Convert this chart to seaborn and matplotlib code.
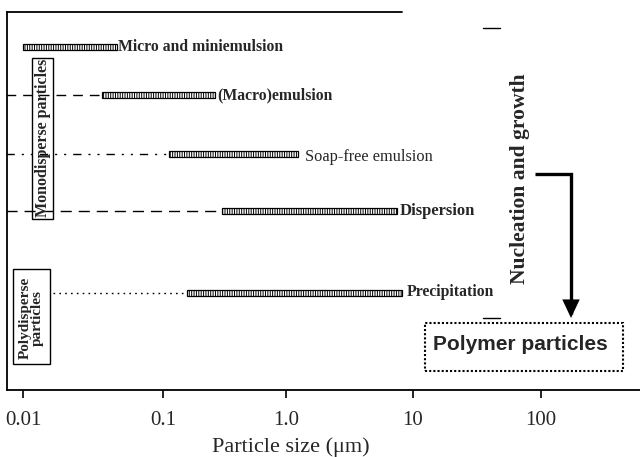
import matplotlib
matplotlib.use("Agg")
import matplotlib.pyplot as plt
import seaborn as sns
import numpy as np
from matplotlib.patches import Rectangle, FancyArrowPatch
from matplotlib.path import Path
from matplotlib.lines import Line2D

# ---- data ----
methods = ["Micro and miniemulsion", "(Macro)emulsion", "Soap-free emulsion",
           "Dispersion", "Precipitation"]
size_min = [0.010, 0.0365, 0.112, 0.300, 0.156]   # µm
size_max = [0.0467, 0.265, 1.24, 7.44, 8.15]      # µm
guide_from = [None, 0.0076, 0.0076, 0.0076, 0.0164]
tick_values = [0.01, 0.1, 1.0, 10, 100]
tick_labels = ["0.01", "0.1", "1.0", "10", "100"]

# ---- layout ----
W, H = 640, 457
row_y = [47, 95, 154, 211, 293]           # pixel-like rows
label_dx = [1, 2, 7, 3, 5]                # pixel gap after bar
label_dy = [0, 0, -3, 0, 1]
label_bold = [True, True, False, True, True]
label_size = [11.3, 11.3, 11.8, 12, 11.3]
guide_styles = [None, (0, (7, 5)), (0, (6, 5, 1.5, 5, 1.5, 5)), (0, (8, 5)), (0, (1.2, 3))]

# the original drawing's log axis has slightly uneven decades
knot_l = np.array([-2.0, -1.0, 0.0, 1.0, 2.0])
knot_p = np.array([23.0, 163.0, 286.0, 413.0, 541.0])


def fwd(x):
    x = np.asarray(x, dtype=float)
    l = np.log10(np.clip(x, 1e-12, None))
    p = np.interp(l, knot_l, knot_p)
    p = np.where(l < -2, 23 + (l + 2) * 140, p)
    p = np.where(l > 2, 541 + (l - 2) * 128, p)
    return p


def inv(p):
    p = np.asarray(p, dtype=float)
    l = np.interp(p, knot_p, knot_l)
    l = np.where(p < 23, -2 + (p - 23) / 140, l)
    l = np.where(p > 541, 2 + (p - 541) / 128, l)
    return 10 ** l


sns.set_theme(style="white")
plt.rcParams["font.family"] = ["Liberation Serif", "DejaVu Serif"]
plt.rcParams["hatch.linewidth"] = 0.7

fig = plt.figure(figsize=(W / 100, H / 100), dpi=100)
ax = fig.add_axes([7 / W, (H - 390) / H, (W - 7) / W, (390 - 12) / H])
ax.set_xscale("function", functions=(fwd, inv))
ax.set_xlim(float(inv(7)), float(inv(640)))
ax.set_ylim(390, 12)

for i, m in enumerate(methods):
    y = row_y[i]
    if guide_from[i] is not None:
        ax.plot([guide_from[i], size_min[i]], [y, y], color="black", lw=1.0,
                linestyle=guide_styles[i])
    ax.barh(y, size_max[i] - size_min[i], left=size_min[i], height=5.5,
            facecolor="white", edgecolor="black", linewidth=0.9, hatch="|||||||")
    ax.annotate(m, xy=(size_max[i], y), xytext=(label_dx[i], label_dy[i]),
                textcoords="offset pixels", va="center", ha="left",
                fontsize=label_size[i],
                fontweight="bold" if label_bold[i] else "normal")

ax.set_xticks(tick_values)
ax.set_xticklabels(tick_labels)
ax.xaxis.set_minor_locator(matplotlib.ticker.NullLocator())
ax.tick_params(axis="x", bottom=True, direction="out", length=6, width=1.2,
               labelsize=15, pad=9, color="black")
ax.tick_params(axis="y", left=False, labelleft=False)
ax.set_xlabel("Particle size (μm)", fontsize=16, va="top")
ax.xaxis.set_label_coords((291 - 7) / (W - 7), (390 - 437) / 378)
sns.despine(ax=ax, top=True, right=True)
for s in ["left", "bottom"]:
    ax.spines[s].set_color("black")
    ax.spines[s].set_linewidth(1.3)
ax.plot([0, (402 - 7) / (W - 7)], [1, 1], transform=ax.transAxes, color="black",
        lw=1.3, clip_on=False)


def fx(x):
    return x / W


def fy(y):
    return 1 - y / H


# small marks at right
for yy in (28, 318):
    fig.add_artist(Line2D([fx(483), fx(500)], [fy(yy), fy(yy)], color="black", lw=1.0))

# vertical labelled boxes
fig.add_artist(Rectangle((fx(32), fy(219)), fx(53) - fx(32), fy(58) - fy(219),
                         fill=False, edgecolor="black", lw=1.0))
fig.text(fx(43), fy(138), "Monodisperse particles", rotation=90, ha="center",
         va="center", fontsize=11.5, fontweight="bold")
fig.add_artist(Rectangle((fx(13), fy(364)), fx(50) - fx(13), fy(269) - fy(364),
                         fill=False, edgecolor="black", lw=1.0))
fig.text(fx(31.5), fy(318), "Polydisperse\nparticles", rotation=90, ha="center",
         va="center", fontsize=11, fontweight="bold", linespacing=0.95)

# nucleation and growth
fig.text(fx(520), fy(179), "Nucleation and growth", rotation=90, ha="center",
         va="center", fontsize=15.5, fontweight="bold")
arrow_path = Path([(fx(535), fy(174)), (fx(571), fy(174)), (fx(571), fy(318))],
                  [Path.MOVETO, Path.LINETO, Path.LINETO])
fig.add_artist(FancyArrowPatch(path=arrow_path,
                               arrowstyle="-|>,head_length=0.85,head_width=0.4",
                               mutation_scale=11, lw=2.4, color="black",
                               joinstyle="miter", capstyle="butt",
                               transform=fig.transFigure))

# polymer particles box
fig.add_artist(Rectangle((fx(425), fy(371)), fx(623) - fx(425), fy(323) - fy(371),
                         fill=False, edgecolor="black", lw=1.5, linestyle=(0, (1, 1))))
fig.text(fx(520.5), fy(345), "Polymer particles", ha="center", va="center",
         fontsize=15, fontweight="bold", family=["Liberation Sans", "DejaVu Sans"])

fig.savefig("out.png", dpi=100)
